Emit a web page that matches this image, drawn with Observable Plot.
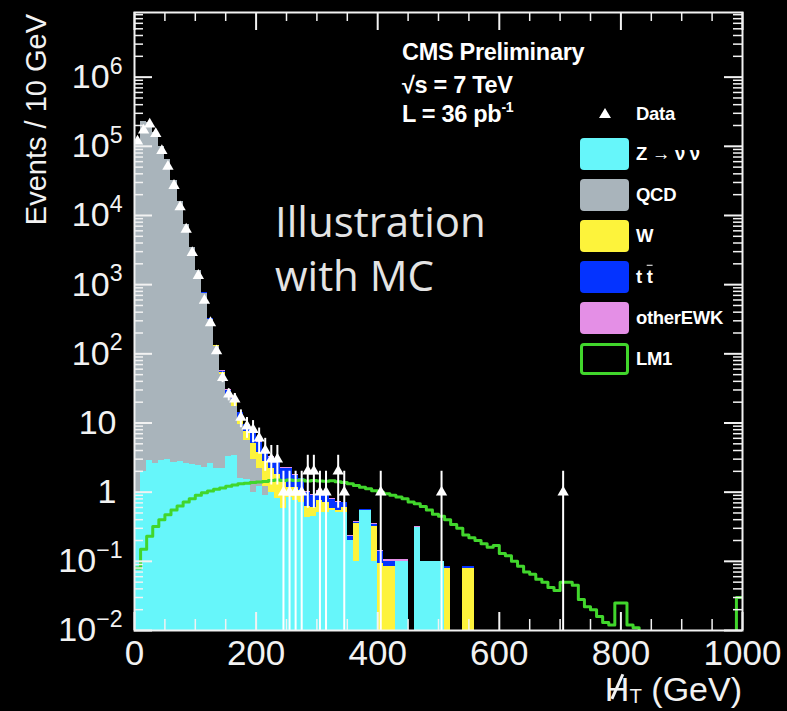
<!DOCTYPE html>
<html>
<head>
<meta charset="utf-8">
<script src="https://cdn.jsdelivr.net/npm/d3@7"></script>
<script src="https://cdn.jsdelivr.net/npm/@observablehq/plot@0.6"></script>
<style>
  html, body { margin: 0; padding: 0; background: #000; }
  #wrap { position: relative; width: 787px; height: 711px; background: #000; overflow: hidden;
          font-family: "Liberation Sans", Arial, Helvetica, sans-serif; color: #fff; }
  #wrap svg { display: block; }
  .abs { position: absolute; white-space: nowrap; line-height: 1; }
  .info { font-weight: bold; font-size: 23.5px; letter-spacing: -0.3px; }
  .illus { font-family: "Open Sans", sans-serif; font-size: 42px; color: #e4e4e4; }
  .leglab { font-weight: bold; font-size: 18.5px; letter-spacing: -0.3px; transform: translateY(-50%); }
  .swatch { border-radius: 4px; box-sizing: border-box; }
</style>
</head>
<body>
<div id="wrap"></div>
<script>
// ---------------- data ----------------
const GEV_PER_BIN = 10;

// stacked MC backgrounds, events per 10 GeV bin, bins 0..59 (0-600 GeV)
const zNuNu = [
  1.0, 2.0, 2.9, 2.6, 2.9, 3.0, 2.7, 2.8, 2.6, 2.5,
  2.4, 2.3, 2.6, 2.2, 2.2, 3.3, 3.4, 1.6, 1.5, 1.0,
  1.2, 0.9, 1.0, 0.8, 0.58, 0.83, 0.76, 0.7, 0.43, 0.45,
  0.5, 0.5, 0.54, 0.5, 0.5, 0.2, 0.1, 0.54, 0.54, 0.1,
  0, 0, 0, 0.1, 0.1, 0, 0.31, 0.1, 0.1, 0.1,
  0.1, 0, 0, 0, 0, 0, 0, 0, 0, 0
];
const qcd = [
  110000, 230000, 220000, 160000, 100000, 65000, 32000, 16000, 7500, 3400,
  1600, 750, 310, 125, 48, 20, 14, 8, 4, 2,
  1, 0.3, 0, 0, 0, 0, 0, 0, 0, 0,
  0, 0, 0, 0, 0, 0, 0, 0, 0, 0,
  0, 0, 0, 0, 0, 0, 0, 0, 0, 0,
  0, 0, 0, 0, 0, 0, 0, 0, 0, 0
];
const wJets = [
  20, 40, 45, 40, 35, 28, 22, 17, 12, 8,
  5, 4, 3.5, 3, 3, 2.5, 2.4, 2.0, 2.0, 2.0,
  1.6, 1.6, 1.2, 1.0, 0.8, 0.35, 0.4, 0.35, 0.2, 0.15,
  0.25, 0.2, 0.05, 0.05, 0.1, 0, 0.25, 0, 0, 0.22,
  0.093, 0.085, 0.085, 0, 0, 0, 0, 0, 0, 0,
  0, 0.08, 0, 0, 0.08, 0.08, 0, 0, 0, 0
];
const ttbar = [
  2, 4, 6, 7, 7, 7, 6, 6, 5, 5,
  4.5, 4, 4, 3.5, 3, 4, 3, 2.5, 2, 2,
  1.5, 1.3, 1.0, 0.9, 0.8, 1.0, 0.6, 0.5, 0.35, 0.3,
  0.25, 0.3, 0.2, 0.15, 0.1, 0.03, 0.02, 0.02, 0.02, 0.02,
  0.047, 0.015, 0.015, 0, 0, 0, 0, 0, 0, 0,
  0, 0.005, 0, 0, 0.005, 0.005, 0, 0, 0, 0
];
const otherEWK = [
  1, 2, 2, 2, 2, 1.5, 1.5, 1.2, 1, 0.8,
  0.6, 0.5, 0.4, 0.3, 0.3, 0.25, 0.2, 0.2, 0.15, 0.15,
  0.12, 0.1, 0.1, 0.08, 0.07, 0.06, 0.06, 0.05, 0.05, 0.04,
  0.04, 0.03, 0.03, 0.03, 0.02, 0.01, 0.01, 0.01, 0.01, 0.01,
  0.005, 0.005, 0.005, 0.005, 0.005, 0, 0.005, 0, 0, 0,
  0, 0, 0, 0, 0, 0, 0, 0, 0, 0
];

// observed data counts, bins 0..70
const dataCounts = [
  118000, 171000, 208000, 152000, 86000, 51000, 27000, 13300, 6300, 2900,
  1350, 590, 280, 110, 45, 26, 22, 12, 9, 8,
  6, 4, 3, 3, 1, 1, 1, 1, 2, 2,
  1, 1, 0, 2, 1, 0, 0, 0, 0, 0,
  1, 0, 0, 0, 0, 0, 0, 0, 0, 0,
  1, 0, 0, 0, 0, 0, 0, 0, 0, 0,
  0, 0, 0, 0, 0, 0, 0, 0, 0, 0,
  1
];

// LM1 signal, bins 0..99
const lm1 = [
  0.08, 0.15, 0.23, 0.32, 0.4, 0.47, 0.55, 0.63, 0.72, 0.8,
  0.9, 0.98, 1.04, 1.1, 1.15, 1.22, 1.27, 1.32, 1.35, 1.38,
  1.4, 1.43, 1.47, 1.5, 1.48, 1.5, 1.47, 1.5, 1.45, 1.47,
  1.45, 1.44, 1.46, 1.42, 1.38, 1.32, 1.25, 1.18, 1.12, 1.05,
  1.0, 0.95, 0.9, 0.85, 0.8, 0.72, 0.68, 0.62, 0.55, 0.48,
  0.45, 0.4, 0.34, 0.3, 0.24, 0.22, 0.2, 0.18, 0.16, 0.17,
  0.13, 0.12, 0.1, 0.085, 0.07, 0.065, 0.055, 0.05, 0.042, 0.038,
  0.05, 0.05, 0.045, 0.028, 0.022, 0.02, 0.016, 0.013, 0.012, 0.025,
  0.025, 0.012, 0.011, 0.008, 0.006, 0.005, 0.004, 0.004, 0.003, 0.003,
  0.002, 0.002, 0.002, 0.002, 0.001, 0.001, 0.001, 0.001, 0.001, 0.03
];

const seriesNames = ["Z → ν ν", "QCD", "W", "t t̄", "otherEWK"];
const seriesColors = ["#66f6fa", "#a9b4bb", "#fdf33b", "#0433ff", "#e48fe6"];
const lm1Name = "LM1";
const lm1Color = "#41d62c";
const dataName = "Data";

const xTickValues = [0, 200, 400, 600, 800, 1000];
const yTickValues = [1e-2, 1e-1, 1, 10, 1e2, 1e3, 1e4, 1e5, 1e6];
const yTickLabels = ["10^-2", "10^-1", "1", "10", "10^2", "10^3", "10^4", "10^5", "10^6"];
const infoLines = ["CMS Preliminary", "√s = 7 TeV", "L = 36 pb^-1"];
const illusLines = ["Illustration", "with MC"];
const yTitle = "Events / 10 GeV";

// ---------------- layout ----------------
const W = 787, H = 711;
const mL = 134, mR = 45, mT = 12, mB = 81;
const plotW = W - mL - mR, plotH = H - mT - mB;
const fg = "#f2f2f2";

// stacked rectangles
const stackSeries = [zNuNu, qcd, wJets, ttbar, otherEWK];
const rects = [];
for (let i = 0; i < zNuNu.length; i++) {
  let base = 0;
  stackSeries.forEach((arr, k) => {
    const v = arr[i];
    if (v > 0) rects.push({x1: i * GEV_PER_BIN, x2: (i + 1) * GEV_PER_BIN,
                           y1: Math.max(base, 1e-4), y2: base + v, series: seriesNames[k]});
    base += v;
  });
}
// LM1 step outline
const lm1Pts = lm1.flatMap((v, i) => [{x: i * GEV_PER_BIN, y: v}, {x: (i + 1) * GEV_PER_BIN, y: v}]);
// data points
const dataPts = dataCounts.map((n, i) => ({x: (i + 0.5) * GEV_PER_BIN, n})).filter(d => d.n > 0);

// tick positions
const yMinor = [];
for (let e = -2; e <= 6; e++) for (let m = 2; m <= 9; m++) { const v = m * 10 ** e; if (v < 8.6e6) yMinor.push(v); }
const xMinor = d3.range(50, 1000, 50).filter(v => v % 200 !== 0);
const yLabelOf = new Map(yTickValues.map((t, i) => [t, yTickLabels[i]]));

const svg = Plot.plot({
  width: W, height: H,
  marginLeft: mL, marginRight: mR, marginTop: mT, marginBottom: mB,
  style: {background: "#000", color: fg, fontFamily: "'Liberation Sans', Arial, sans-serif", overflow: "visible"},
  x: {type: "linear", domain: [0, 1000]},
  y: {type: "log", domain: [1e-2, 8.6e6]},
  color: {domain: seriesNames, range: seriesColors},
  marks: [
    Plot.rect(rects, {x1: "x1", x2: "x2", y1: "y1", y2: "y2", fill: "series", clip: true, shapeRendering: "crispEdges"}),
    Plot.line(lm1Pts, {x: "x", y: "y", stroke: lm1Color, strokeWidth: 3, clip: true}),
    Plot.ruleX(dataPts, {x: "x", y1: d => Math.max(d.n - Math.sqrt(d.n), 1e-4), y2: d => d.n + Math.sqrt(d.n),
                          stroke: "#ffffff", strokeWidth: 2, clip: true}),
    Plot.dot(dataPts, {x: "x", y: "n", symbol: "triangle", fill: "#ffffff", r: 4.2, clip: true}),
    // ticks inside the frame
    Plot.tickY(yTickValues, {y: d => d, stroke: fg, strokeWidth: 2, insetRight: plotW - 18}),
    Plot.tickY(yMinor, {y: d => d, stroke: fg, strokeWidth: 1.5, insetRight: plotW - 9}),
    Plot.tickY(yTickValues, {y: d => d, stroke: fg, strokeWidth: 2, insetLeft: plotW - 18}),
    Plot.tickY(yMinor, {y: d => d, stroke: fg, strokeWidth: 1.5, insetLeft: plotW - 9}),
    Plot.tickX(xTickValues, {x: d => d, stroke: fg, strokeWidth: 2, insetTop: plotH - 18}),
    Plot.tickX(xMinor, {x: d => d, stroke: fg, strokeWidth: 1.5, insetTop: plotH - 11}),
    Plot.tickX(xTickValues, {x: d => d, stroke: fg, strokeWidth: 2, insetBottom: plotH - 18}),
    Plot.tickX(xMinor, {x: d => d, stroke: fg, strokeWidth: 1.5, insetBottom: plotH - 9}),
    Plot.frame({stroke: fg, strokeWidth: 2}),
    Plot.axisX(xTickValues, {tickSize: 0, tickPadding: 10, fontSize: 35, label: null, tickFormat: d => String(d)}),
    Plot.axisY(yTickValues, {tickSize: 0, tickPadding: 12, fontSize: 34, label: null, tickFormat: d => yLabelOf.get(d)})
  ]
});

// superscript exponents in y tick labels
d3.select(svg).selectAll('g[aria-label="y-axis tick label"] text').each(function() {
  const t = this.textContent;
  const sel = d3.select(this);
  if (t.includes("^")) {
    const [base, exp] = t.split("^");
    sel.text("");
    sel.append("tspan").text(base);
    sel.append("tspan").attr("font-size", "0.68em").attr("dy", "-0.62em").text(exp.replace("-", "\u2212"));
  } else {
    sel.attr("dx", -6);
  }
});

// y axis title
d3.select(svg).append("text")
  .attr("transform", "translate(46,14) rotate(-90)")
  .attr("text-anchor", "end")
  .attr("fill", fg)
  .attr("font-size", 29)
  .text(yTitle);

const wrap = document.getElementById("wrap");
wrap.appendChild(svg);

function addDiv(html, cls, style) {
  const d = document.createElement("div");
  d.className = "abs " + (cls || "");
  d.innerHTML = html;
  Object.assign(d.style, style);
  wrap.appendChild(d);
  return d;
}
function sup(s) { return s.replace(/\^(\S+)/, '<sup style="font-size:0.6em;vertical-align:0.7em;line-height:0">$1</sup>'); }

// CMS info lines
const infoBaselines = [61, 94, 123];
infoLines.forEach((s, i) => addDiv(sup(s), "info", {left: "402px", top: (infoBaselines[i] - 0.85 * 23.5) + "px"}));

// illustration text
const illusBaselines = [245, 299];
illusLines.forEach((s, i) => addDiv(s, "illus", {left: "275px", top: (illusBaselines[i] - 1.07 * 42) + "px"}));

// legend
const legX = 580, legW = 49, legH = 32, legY0 = 153.5, legStep = 41;
const labelX = 636;
// data entry
addDiv('<svg width="12" height="10"><path d="M6 0 L12 10 L0 10 Z" fill="#fff"/></svg>', "", {left: (legX + legW / 2 - 6) + "px", top: "108px"});
addDiv(dataName, "leglab", {left: labelX + "px", top: "114px"});
const legendHtml = ["Z → ν ν", "QCD", "W", 't <span style="text-decoration:overline">t</span>', "otherEWK"];
seriesNames.forEach((name, i) => {
  const cy = legY0 + i * legStep;
  addDiv("", "swatch", {left: legX + "px", top: (cy - legH / 2) + "px", width: legW + "px", height: legH + "px", background: seriesColors[i]});
  addDiv(legendHtml[i], "leglab", {left: labelX + "px", top: cy + "px"});
});
{
  const cy = legY0 + seriesNames.length * legStep;
  addDiv("", "swatch", {left: legX + "px", top: (cy - legH / 2) + "px", width: legW + "px", height: legH + "px",
                        border: "3px solid " + lm1Color, background: "#000"});
  addDiv(lm1Name, "leglab", {left: labelX + "px", top: cy + "px"});
}

// x axis title: slashed H (slash drawn as a line), subscript T
addDiv('<span style="position:relative;display:inline-block">H' +
       '<span style="position:absolute;left:0.32em;top:0.02em;width:2.5px;height:0.78em;background:' + fg + ';transform:rotate(24deg)"></span></span>' +
       '<span style="font-size:0.6em;vertical-align:-0.12em;line-height:1">T</span> (GeV)',
       "", {right: (W - 742) + "px", top: (701 - 0.85 * 34) + "px", fontSize: "34px", color: fg});
</script>
</body>
</html>
